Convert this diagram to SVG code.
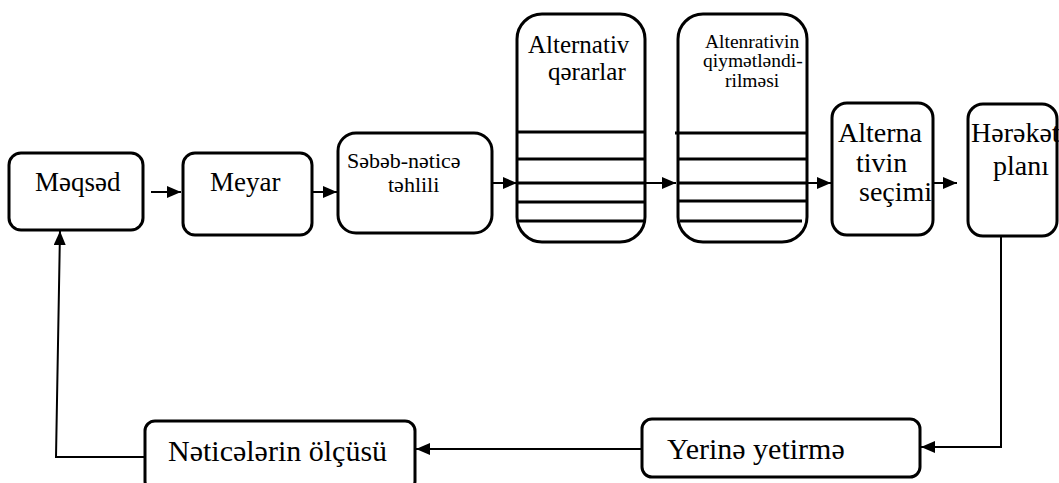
<svg xmlns="http://www.w3.org/2000/svg" width="1059" height="483" viewBox="0 0 1059 483">
  <style>
    .box { fill: #fff; stroke: #000; stroke-width: 3; }
    .rule { stroke: #000; stroke-width: 3; }
    .wire { fill: none; stroke: #000; stroke-width: 2; }
    .lbl { font-family: 'Liberation Serif', 'Times New Roman', serif; fill: #000; }
  </style>
  <defs>
    <marker id="head" viewBox="0 0 14 12" refX="14" refY="6" markerWidth="14" markerHeight="12" markerUnits="userSpaceOnUse" orient="auto">
      <path d="M0,0 L14,6 L0,12 Z" fill="#000"/>
    </marker>
  </defs>

  <g id="connectors">
    <line class="wire" x1="151" y1="192" x2="181" y2="192" marker-end="url(#head)"/>
    <line class="wire" x1="312" y1="192" x2="337" y2="192" marker-end="url(#head)"/>
    <line class="wire" x1="492" y1="183" x2="517" y2="183" marker-end="url(#head)"/>
    <line class="wire" x1="645" y1="183" x2="676" y2="183" marker-end="url(#head)"/>
    <line class="wire" x1="807" y1="183" x2="831" y2="183" marker-end="url(#head)"/>
    <line class="wire" x1="933" y1="183" x2="957" y2="183" marker-end="url(#head)"/>
    <polyline class="wire" points="1001,237 1001,447 921,447" marker-end="url(#head)"/>
    <line class="wire" x1="642" y1="449" x2="416" y2="449" marker-end="url(#head)"/>
    <polyline class="wire" points="145,457 56,457 60,231" marker-end="url(#head)"/>
  </g>

  <g id="maqsad">
    <rect class="box" x="9" y="153" width="134" height="77" rx="12"/>
    <text class="lbl" x="35" y="191" font-size="27">Məqsəd</text>
  </g>

  <g id="meyar">
    <rect class="box" x="183" y="153" width="129" height="82" rx="12"/>
    <text class="lbl" x="210" y="191" font-size="27">Meyar</text>
  </g>

  <g id="sabab-natica">
    <rect class="box" x="338" y="133" width="154" height="100" rx="18"/>
    <text class="lbl" font-size="22"><tspan x="347" y="168">Səbəb-nəticə</tspan><tspan x="388" y="192">təhlili</tspan></text>
  </g>

  <g id="alternativ-qararlar">
    <rect class="box" x="517" y="14" width="128" height="228" rx="25"/>
    <line class="rule" x1="517" y1="132" x2="644" y2="132"/>
    <line class="rule" x1="517" y1="159" x2="644" y2="159"/>
    <line class="rule" x1="517" y1="183" x2="644" y2="183"/>
    <line class="rule" x1="517" y1="202" x2="644" y2="202"/>
    <line class="rule" x1="517" y1="221" x2="644" y2="221"/>
    <text class="lbl" font-size="25"><tspan x="528" y="53">Alternativ</tspan><tspan x="548" y="80">qərarlar</tspan></text>
  </g>

  <g id="qiymatlandirilmasi">
    <rect class="box" x="678" y="14" width="129" height="228" rx="25"/>
    <line class="rule" x1="675" y1="133" x2="807" y2="133"/>
    <line class="rule" x1="678" y1="159" x2="807" y2="159"/>
    <line class="rule" x1="678" y1="183" x2="807" y2="183"/>
    <line class="rule" x1="678" y1="201" x2="807" y2="201"/>
    <line class="rule" x1="680" y1="221" x2="802" y2="221"/>
    <text class="lbl" font-size="19.5"><tspan x="705" y="48">Altenrativin</tspan><tspan x="703" y="67">qiymətləndi-</tspan><tspan x="725" y="87">rilməsi</tspan></text>
  </g>

  <g id="alternativin-secimi">
    <rect class="box" x="832" y="103" width="101" height="132" rx="15"/>
    <text class="lbl" font-size="28"><tspan x="838" y="142">Alterna</tspan><tspan x="856" y="172">tivin</tspan><tspan x="859" y="201">seçimi</tspan></text>
  </g>

  <g id="harakat-plani">
    <rect class="box" x="968" y="104" width="89" height="132" rx="15"/>
    <text class="lbl" font-size="28"><tspan x="971" y="142">Hərəkət</tspan><tspan x="993" y="175">planı</tspan></text>
  </g>

  <g id="yerina-yetirma">
    <rect class="box" x="642" y="419" width="278" height="58" rx="10"/>
    <text class="lbl" x="667" y="459" font-size="30">Yerinə yetirmə</text>
  </g>

  <g id="naticalarin-olcusu">
    <rect class="box" x="145" y="421" width="270" height="70" rx="10"/>
    <text class="lbl" x="168" y="461" font-size="30">Nəticələrin ölçüsü</text>
  </g>
</svg>
